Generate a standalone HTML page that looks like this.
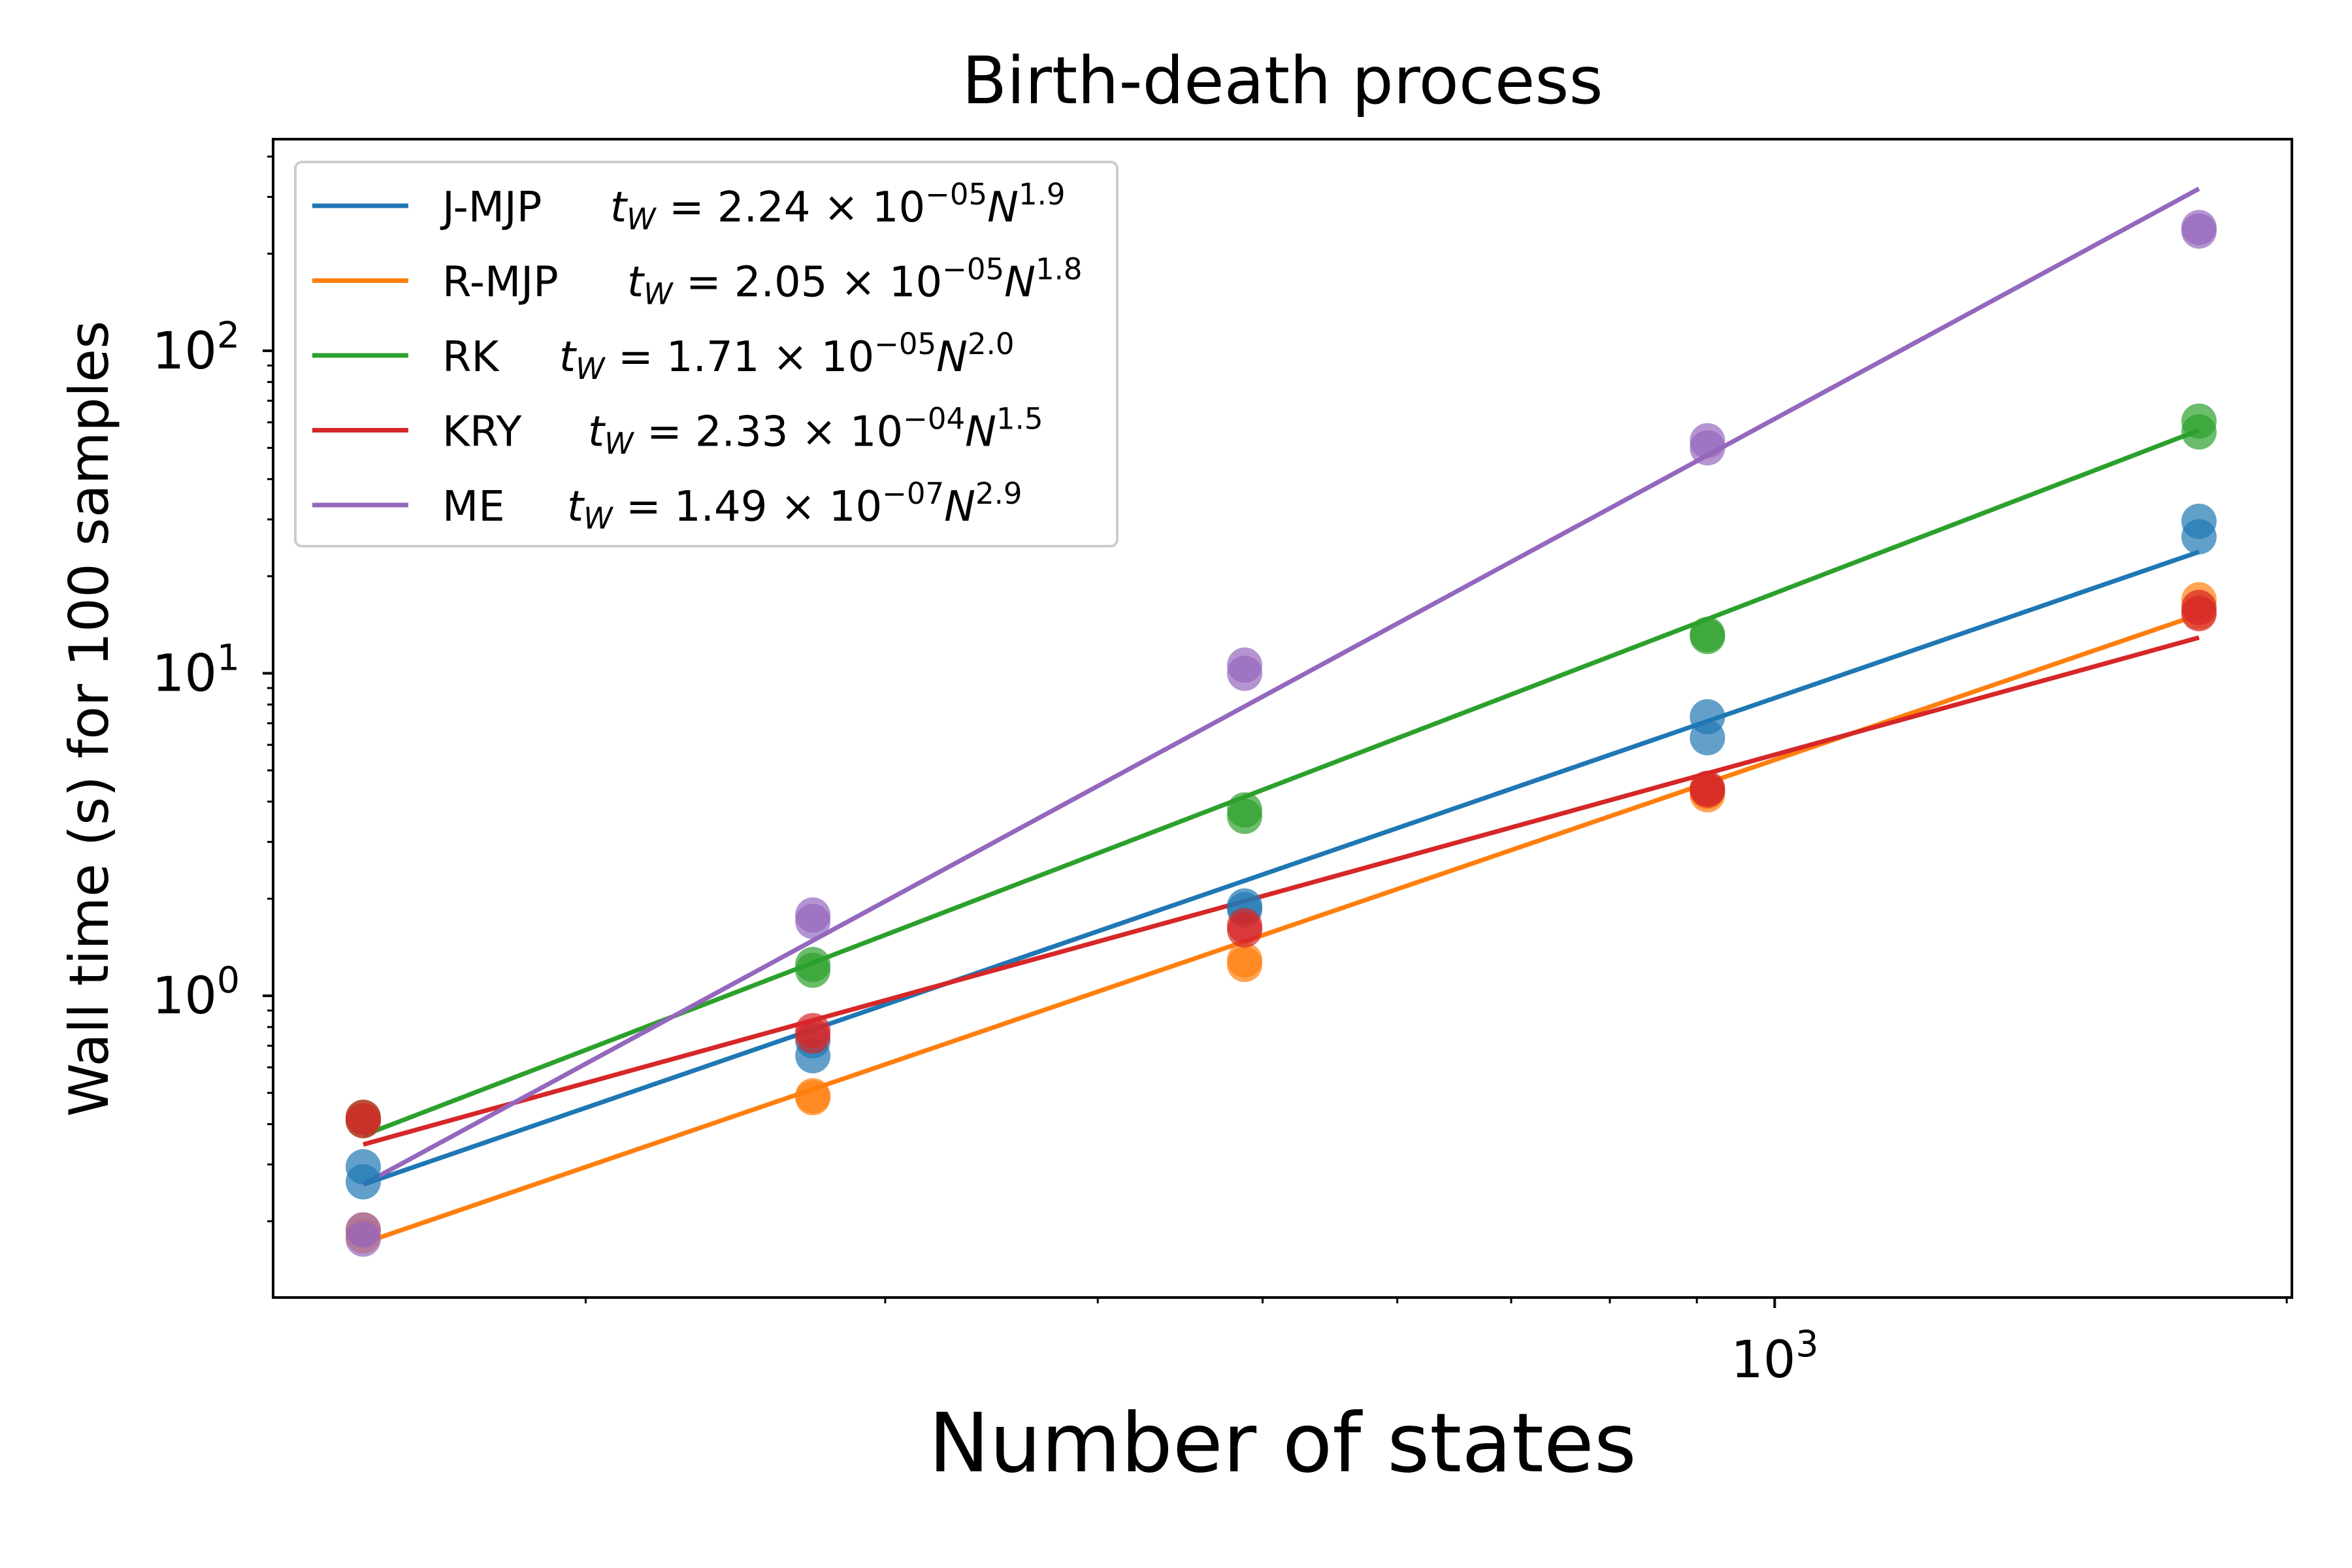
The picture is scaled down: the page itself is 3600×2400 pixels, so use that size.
<!DOCTYPE html>
<html><head><meta charset="utf-8"><style>
html,body{margin:0;padding:0;background:#fff;}
svg{display:block;font-family:"DejaVu Sans","Liberation Sans",sans-serif;}
</style></head><body>
<svg id="chart" width="3600" height="2400" viewBox="0 0 3600 2400" xmlns="http://www.w3.org/2000/svg">
<rect width="3600" height="2400" fill="#fff"/>
<g id="lines"></g><g id="points"></g><g id="axes"></g><g id="legend"></g>
</svg>
<script>
const seriesNames = ["J-MJP","R-MJP","RK","KRY","ME"];
const seriesColors = ["#1f77b4","#ff7f0e","#2ca02c","#d62728","#9467bd"];
const formulaCoef = ["2.24","2.05","1.71","2.33","1.49"];
const formulaExp10 = ["\u221205","\u221205","\u221205","\u221204","\u221207"];
const formulaPow = ["1.9","1.8","2.0","1.5","2.9"];
const states = [148, 272, 488, 913, 1776];
const jmjp = [[0.295,0.265],[0.725,0.652],[1.90,1.85],[7.33,6.31],[29.6,26.5]];
const rmjp = [[0.188,0.18],[0.483,0.49],[1.29,1.25],[4.2,4.3],[16.9,15.5]];
const rk   = [[0.42,0.41],[1.2,1.25],[3.77,3.6],[13.2,13.0],[60.5,56]];
const kry  = [[0.41,0.42],[0.78,0.75],[1.65,1.6],[4.34,4.4],[15.3,16.0]];
const me   = [[0.188,0.176],[1.78,1.7],[10.6,10.0],[52.6,50],[241,235]];
const fitStart = [0.26,0.171,0.369,0.346,0.26];
const fitEnd = [23.8,15.2,56.7,12.9,318];
const yTickLabels = ["0","1","2"];
const xTickLabels = ["3"];

const NS="http://www.w3.org/2000/svg";
const L=418,R=3508,T=213,B=1986;
const xmin=Math.log10(131),xmax=Math.log10(2014);
const ymin=Math.log10(0.116),ymax=Math.log10(453);
const X=v=>L+(Math.log10(v)-xmin)/(xmax-xmin)*(R-L);
const Y=v=>B-(Math.log10(v)-ymin)/(ymax-ymin)*(B-T);
function mk(tag,attrs,parent){const e=document.createElementNS(NS,tag);for(const k in attrs)e.setAttribute(k,attrs[k]);parent.appendChild(e);return e;}
const gL=document.getElementById('lines'),gP=document.getElementById('points'),gA=document.getElementById('axes'),gG=document.getElementById('legend');
const allData=[jmjp,rmjp,rk,kry,me];

allData.forEach((d,i)=>{
  const ln=mk('line',{x1:X(states[0]),y1:Y(fitStart[i]),x2:X(states[states.length-1]),y2:Y(fitEnd[i]),stroke:seriesColors[i],'stroke-width':7},gL);
  
  
  d.forEach((runs,j)=>runs.forEach(v=>{
    const c=mk('circle',{cx:X(states[j]),cy:Y(v),r:27,fill:seriesColors[i],'fill-opacity':0.7},gP);
    
    
  }));
});

const fr=mk('rect',{x:L,y:T,width:R-L,height:B-T,fill:'none',stroke:'#000','stroke-width':4},gA);


for(let e=-1;e<=2;e++){for(let m=1;m<=9;m++){const v=m*Math.pow(10,e);if(v<0.116||v>453)continue;
  const y=Y(v);const len=m===1?16:9;
  const t=mk('line',{x1:L-len,x2:L,y1:y,y2:y,stroke:'#000','stroke-width':m===1?4:3},gA);
  
  
}}
yTickLabels.forEach(s=>{const v=Math.pow(10,+s);const y=Y(v);
  const t=mk('text',{x:367,y:y+27,'text-anchor':'end','font-size':78},gA);
  
  
  t.innerHTML='10<tspan dy="-32" font-size="55">'+s+'</tspan>';
});
for(let e=2;e<=3;e++){for(let m=1;m<=9;m++){const v=m*Math.pow(10,e);if(v<131||v>2014)continue;
  const x=X(v);const len=m===1?16:9;
  const t=mk('line',{x1:x,x2:x,y1:B,y2:B+len,stroke:'#000','stroke-width':m===1?4:3},gA);
  
  
}}
xTickLabels.forEach(s=>{const x=X(Math.pow(10,+s));
  const t=mk('text',{x:x,y:2108,'text-anchor':'middle','font-size':78},gA);
  
  
  t.innerHTML='10<tspan dy="-32" font-size="55">'+s+'</tspan>';
});
let t=mk('text',{x:1963,y:158,'text-anchor':'middle','font-size':100},gA);t.textContent='Birth-death process';


t=mk('text',{x:1963,y:2252,'text-anchor':'middle','font-size':125},gA);t.textContent='Number of states';


t=mk('text',{x:0,y:0,'text-anchor':'middle','font-size':83,transform:'translate(165,1100) rotate(-90)'},gA);t.textContent='Wall time (s) for 100 samples';



const lb=mk('rect',{x:452,y:248,width:1258,height:588,rx:10,fill:'#fff','fill-opacity':0.8,stroke:'#ccc','stroke-width':4},gG);


const fx=[934,960,856,900,868];
seriesNames.forEach((n,i)=>{const y=315+i*114.5;
  const l=mk('line',{x1:478,x2:625,y1:y,y2:y,stroke:seriesColors[i],'stroke-width':7},gG);
  
  
  const a=mk('text',{x:677,y:y+24,'font-size':64},gG);a.textContent=n;
  
  
  const f=mk('text',{x:fx[i],y:y+24,'font-size':64},gG);
  
  
  f.innerHTML='<tspan font-style="italic">t</tspan><tspan font-style="italic" font-size="45" dy="12">W</tspan><tspan dy="-12"> = '+formulaCoef[i]+' \u00d7 10</tspan><tspan font-size="45" dy="-26">'+formulaExp10[i]+'</tspan><tspan dy="26" font-style="italic">N</tspan><tspan font-size="45" dy="-26">'+formulaPow[i]+'</tspan>';
});
</script>
</body></html>
